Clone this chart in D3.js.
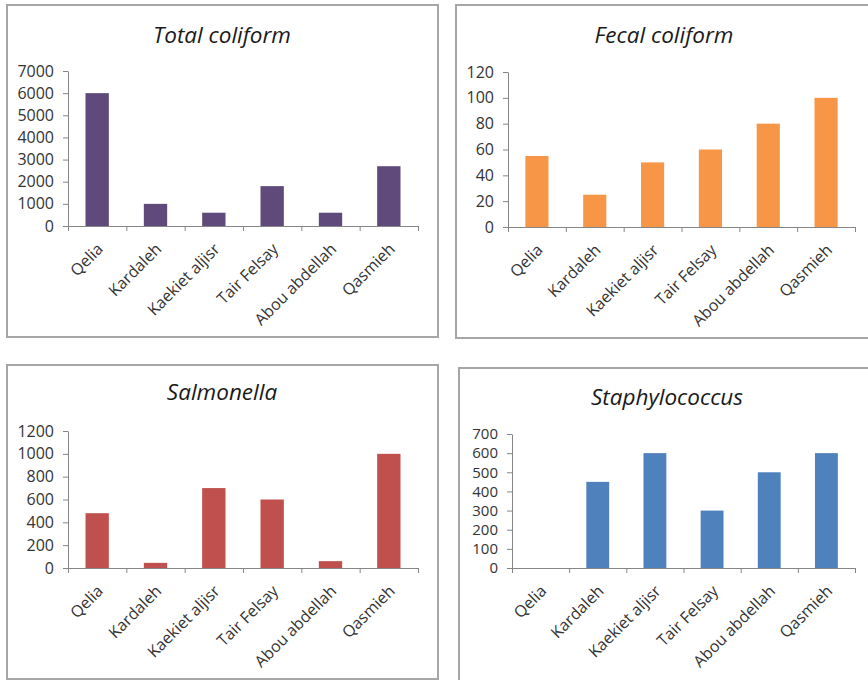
<!DOCTYPE html>
<html>
<head>
<meta charset="utf-8">
<script src="https://cdn.jsdelivr.net/npm/d3@7"></script>
<style>
  html, body { margin: 0; padding: 0; background: #ffffff; }
  svg { display: block; }
  text { font-family: "Open Sans", Lato, "Liberation Sans", sans-serif; }
</style>
</head>
<body>
<svg id="chart" width="868" height="680"></svg>
<script>
const categories = ["Qelia", "Kardaleh", "Kaekiet aljisr", "Tair Felsay", "Abou abdellah", "Qasmieh"];

const titles = ["Total coliform", "Fecal coliform", "Salmonella", "Staphylococcus"];

const totalColiform = [6000, 1000, 600, 1800, 600, 2700];
const fecalColiform = [55, 25, 50, 60, 80, 100];
const salmonella = [480, 45, 700, 600, 60, 1000];
const staphylococcus = [0, 450, 600, 300, 500, 600];

const totalTicks = [0, 1000, 2000, 3000, 4000, 5000, 6000, 7000];
const fecalTicks = [0, 20, 40, 60, 80, 100, 120];
const salmonellaTicks = [0, 200, 400, 600, 800, 1000, 1200];
const staphTicks = [0, 100, 200, 300, 400, 500, 600, 700];

const colors = ["#604a7b", "#f79646", "#c0504d", "#4f81bd"];

const panels = [
  { title: titles[0], values: totalColiform, ticks: totalTicks, color: colors[0], tickFont: 16,
    box: [7, 5, 438, 337], x0: 68, x1: 418, yTop: 71, yBot: 226, tx: 222, ty: 43 },
  { title: titles[1], values: fecalColiform, ticks: fecalTicks, color: colors[1], tickFont: 16,
    box: [456, 5, 872, 338], x0: 508, x1: 855, yTop: 72, yBot: 227, tx: 664, ty: 43 },
  { title: titles[2], values: salmonella, ticks: salmonellaTicks, color: colors[2], tickFont: 16,
    box: [7, 365, 438, 679], x0: 68, x1: 418, yTop: 431, yBot: 568, tx: 222, ty: 400 },
  { title: titles[3], values: staphylococcus, ticks: staphTicks, color: colors[3], tickFont: 15,
    box: [459, 368, 872, 684], x0: 512, x1: 855, yTop: 434, yBot: 568, tx: 667, ty: 405 }
];

const svg = d3.select("#chart");
const FONT = "'Open Sans', Lato, 'Liberation Sans', sans-serif";
const LABEL = "#333333";

panels.forEach(p => {
  const g = svg.append("g");
  const [bx0, by0, bx1, by1] = p.box;
  g.append("rect")
    .attr("x", bx0).attr("y", by0)
    .attr("width", bx1 - bx0).attr("height", by1 - by0)
    .attr("fill", "#ffffff")
    .attr("stroke", "#a6a6a6").attr("stroke-width", 2);

  g.append("text")
    .attr("x", p.tx).attr("y", p.ty)
    .attr("text-anchor", "middle")
    .attr("font-size", 22.5).attr("font-style", "italic")
    .attr("fill", "#1a1a1a")
    .text(p.title);

  const maxV = p.ticks[p.ticks.length - 1];
  const y = d3.scaleLinear().domain([0, maxV]).range([p.yBot, p.yTop]);
  const x = d3.scaleBand().domain(categories).range([p.x0, p.x1])
    .paddingInner(0.6).paddingOuter(0.3);
  const xb = d3.scaleLinear().domain([0, categories.length]).range([p.x0, p.x1]);

  // bars
  g.append("g").selectAll("rect").data(p.values).join("rect")
    .attr("x", (d, i) => x(categories[i]))
    .attr("width", x.bandwidth())
    .attr("y", d => y(d))
    .attr("height", d => y(0) - y(d))
    .attr("fill", p.color);

  // y axis
  const ya = g.append("g").attr("transform", `translate(${p.x0},0)`)
    .call(d3.axisLeft(y).tickValues(p.ticks).tickFormat(d3.format("d"))
      .tickSize(5).tickSizeOuter(0).tickPadding(9));
  ya.select(".domain").attr("stroke", "#868686");
  ya.selectAll(".tick line").attr("stroke", "#868686");
  ya.selectAll(".tick text").attr("font-size", p.tickFont).attr("fill", LABEL)
    .style("font-family", FONT);

  // x axis (ticks at category boundaries)
  const xa = g.append("g").attr("transform", `translate(0,${p.yBot})`)
    .call(d3.axisBottom(xb).tickValues(d3.range(categories.length + 1)).tickSize(5).tickSizeOuter(0).tickFormat(""));
  xa.select(".domain").attr("stroke", "#868686");
  xa.selectAll(".tick line").attr("stroke", "#868686");

  // x labels
  g.append("g").selectAll("text").data(categories).join("text")
    .attr("transform", d => `translate(${x(d) + x.bandwidth() / 2 + 7},${p.yBot + 24}) rotate(-45)`)
    .attr("text-anchor", "end")
    .attr("font-size", 16).attr("fill", LABEL)
    .text(d => d);
});
</script>
</body>
</html>
